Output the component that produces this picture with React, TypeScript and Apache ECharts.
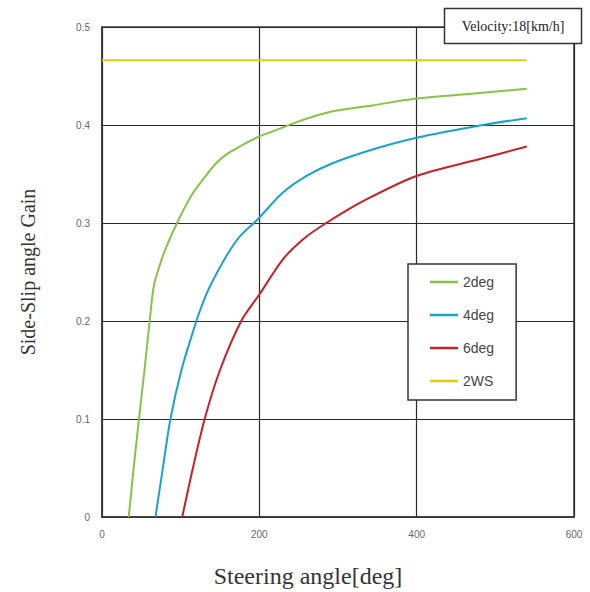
import React, { useEffect, useRef } from "react";
import * as echarts from "echarts";

// Steering angle [deg] / side-slip angle gain for each rear-steer setting
const deg2X = [34, 40, 47, 54, 60.6, 65.7, 73, 82, 96, 108, 116, 128, 145, 160, 175, 199, 222, 251, 293, 344, 400, 484, 540];
const deg2Y = [0, 0.048, 0.1, 0.15, 0.2, 0.235, 0.256, 0.276, 0.301, 0.32, 0.331, 0.344, 0.361, 0.371, 0.378, 0.388, 0.395, 0.404, 0.414, 0.42, 0.427, 0.433, 0.437];

const deg4X = [68, 77, 87, 101, 120, 128, 137, 158, 175, 197, 230, 260, 293, 344, 400, 484, 540];
const deg4Y = [0, 0.048, 0.1, 0.15, 0.2, 0.218, 0.235, 0.266, 0.286, 0.303, 0.331, 0.348, 0.361, 0.375, 0.387, 0.4, 0.407];

const deg6X = [102, 115, 130.5, 150, 177, 200, 230, 255, 285, 336, 400, 484, 540];
const deg6Y = [0, 0.048, 0.1, 0.15, 0.2, 0.227, 0.263, 0.283, 0.3, 0.324, 0.348, 0.366, 0.378];

const ws2X = [0, 540];
const ws2Y = [0.466, 0.466];

const seriesNames = ["2deg", "4deg", "6deg", "2WS"];
const xTicks = { min: 0, max: 600, interval: 200 };
const yTicks = { min: 0, max: 0.5, interval: 0.1 };

const pairs = (xs: number[], ys: number[]) => xs.map((x, i) => [x, ys[i]]);

export default function App() {
  const ref = useRef<HTMLDivElement>(null);

  useEffect(() => {
    if (!ref.current) return;
    const chart = echarts.init(ref.current, undefined, { renderer: "svg" });
    const colors = ["#86c348", "#1aa3c9", "#c62128", "#e3cc0a"];
    const serif = "'Liberation Serif', 'Times New Roman', serif";
    const sans = "'Liberation Sans', Arial, sans-serif";
    const data = [
      pairs(deg2X, deg2Y),
      pairs(deg4X, deg4Y),
      pairs(deg6X, deg6Y),
      pairs(ws2X, ws2Y),
    ];

    chart.setOption({
      animation: false,
      backgroundColor: "#ffffff",
      grid: {
        left: 102,
        right: 16,
        top: 27,
        bottom: 75,
        show: true,
        borderColor: "#3a3a3a",
        borderWidth: 1.5,
      },
      xAxis: {
        type: "value",
        ...xTicks,
        axisLine: { show: true, lineStyle: { color: "#3a3a3a", width: 1.5 } },
        axisTick: { show: false },
        axisLabel: { color: "#666", fontSize: 10, fontFamily: sans, margin: 12 },
        splitLine: { show: true, lineStyle: { color: "#2a2a2a", width: 1.2 } },
      },
      yAxis: {
        type: "value",
        ...yTicks,
        axisLine: { show: true, lineStyle: { color: "#3a3a3a", width: 1.5 } },
        axisTick: { show: false },
        axisLabel: { color: "#666", fontSize: 10, fontFamily: sans, margin: 12 },
        splitLine: { show: true, lineStyle: { color: "#2a2a2a", width: 1.2 } },
      },
      legend: {
        orient: "vertical",
        left: 408,
        top: 264,
        data: seriesNames,
        icon: "rect",
        itemWidth: 28,
        itemHeight: 2.5,
        itemGap: 17,
        padding: [10, 22, 11, 22],
        borderColor: "#333",
        borderWidth: 1.5,
        backgroundColor: "#ffffff",
        textStyle: { color: "#444", fontSize: 14, fontFamily: sans, lineHeight: 16 },
      },
      graphic: [
        {
          type: "rect",
          shape: { x: 444.5, y: 8.5, width: 137, height: 35 },
          style: { fill: "#ffffff", stroke: "#333", lineWidth: 1.5 },
          z: 100,
        },
        {
          type: "text",
          x: 513,
          y: 26,
          style: {
            text: "Velocity:18[km/h]",
            font: `14px ${serif}`,
            fill: "#222",
            align: "center",
            verticalAlign: "middle",
          },
          z: 101,
        },
        {
          type: "text",
          x: 308,
          y: 576,
          style: {
            text: "Steering angle[deg]",
            font: `24px ${serif}`,
            fill: "#333",
            align: "center",
            verticalAlign: "middle",
          },
        },
        {
          type: "text",
          x: 28,
          y: 272,
          rotation: Math.PI / 2,
          style: {
            text: "Side-Slip angle Gain",
            font: `20px ${serif}`,
            fill: "#333",
            align: "center",
            verticalAlign: "middle",
          },
        },
      ],
      series: seriesNames.map((name, i) => ({
        name,
        type: "line",
        data: data[i],
        symbol: "none",
        smooth: i === 3 ? false : 0.3,
        lineStyle: { color: colors[i], width: 2 },
        itemStyle: { color: colors[i] },
        z: 3,
      })),
    });

    return () => chart.dispose();
  }, []);

  return (
    <div
      ref={ref}
      style={{ position: "fixed", left: 0, top: 0, width: 590, height: 592 }}
    />
  );
}
